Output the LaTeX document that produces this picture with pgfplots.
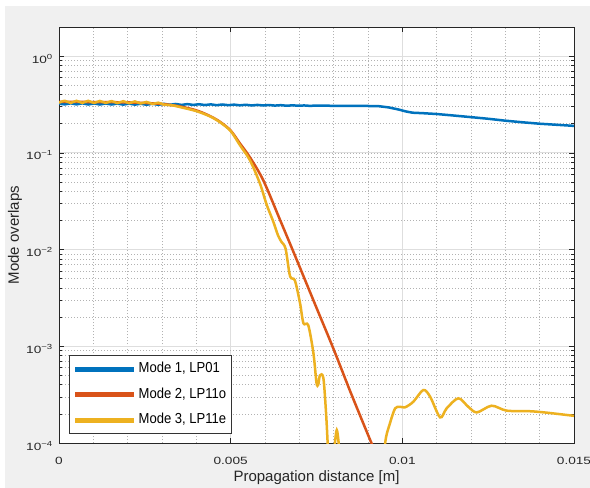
\documentclass[border=0pt]{standalone}
\usepackage{fontspec}
\setmainfont{Liberation Sans}
\newfontfamily\tickfont[FakeStretch=1.3]{Liberation Sans}
\newfontfamily\legfont[FakeStretch=0.9]{Liberation Sans}
\usepackage{pgfplots}
\pgfplotsset{compat=1.18}
\definecolor{mblue}{RGB}{0,114,189}
\definecolor{morange}{RGB}{217,83,25}
\definecolor{myellow}{RGB}{237,177,32}
\definecolor{figbg}{RGB}{240,240,240}
\begin{document}
\begin{tikzpicture}
\fill[white] (0,0) rectangle (590pt,488pt);
\clip (0,0) rectangle (590pt,488pt);
\fill[figbg] (5pt,0) rectangle (590pt,482pt);
\begin{axis}[
  at={(59pt,45pt)}, anchor=south west,
  scale only axis, width=515pt, height=416pt,
  ymode=log,
  xmin=0, xmax=0.015, ymin=1e-4, ymax=2,
  axis background/.style={fill=white},
  axis line style={draw=black!85, line width=0.7pt},
  every tick/.style={draw=black!85, line width=0.6pt},
  tick align=inside, tick pos=both,
  major tick length=5pt, minor tick length=3pt,
  xtick={0,0.005,0.01,0.015},
  xticklabels={0,0.005,0.01,0.015},
  scaled x ticks=false,
  minor x tick num=4,
  minor x tick style={draw=none},
  ytick={1e-4,1e-3,1e-2,1e-1,1},
  yticklabels={10\textsuperscript{−4},10\textsuperscript{−3},10\textsuperscript{−2},10\textsuperscript{−1},10\textsuperscript{0}},
  grid=both,
  major grid style={draw=black!13, line width=0.7pt},
  minor grid style={draw=black!30, line width=0.6pt, dash pattern=on 1pt off 2pt},
  xticklabel style={font=\tickfont\fontsize{10.5}{12}\selectfont, anchor=base, inner sep=0pt, yshift=-21pt, text=black!85},
  yticklabel style={font=\tickfont\fontsize{10.5}{12}\selectfont, anchor=base east, inner sep=0pt, xshift=-6pt, yshift=-7pt, text=black!85},
  xlabel={Propagation distance [m]},
  ylabel={Mode overlaps},
  every axis x label/.style={at={(rel axis cs:0.5,0)}, yshift=-35pt, anchor=center, font=\fontsize{15}{18}\selectfont, text=black!85},
  every axis y label/.style={at={(rel axis cs:0,0.5)}, xshift=-44pt, anchor=center, rotate=90, font=\fontsize{15}{18}\selectfont, text=black!85},
  legend style={at={(0.02,0.021)}, anchor=south west, draw=black!80, line width=0.8pt, fill=white,
    font=\legfont\fontsize{14.5}{16}\selectfont, row sep=8.5pt, inner xsep=3pt, inner ysep=5pt,
    nodes={inner sep=2pt, text height=10pt, text depth=3pt}},
  legend cell align=left,
  legend image code/.code={\draw[#1, line width=5pt] (0pt,0pt) -- (59pt,0pt);},
]
\addplot[mblue, line width=2.5pt] coordinates {
(0,0.322) (0.00017,0.317) (0.00034,0.325) (0.00051,0.317) (0.00068,0.325) (0.00085,0.316)
(0.00102,0.324) (0.00119,0.316) (0.00136,0.324) (0.00153,0.316) (0.0017,0.323) (0.00187,0.315)
(0.00204,0.323) (0.00221,0.315) (0.00238,0.322) (0.00255,0.314) (0.00272,0.322) (0.00289,0.314)
(0.00306,0.321) (0.00323,0.314) (0.0034,0.32) (0.00357,0.313) (0.00374,0.319) (0.00391,0.313)
(0.00408,0.318) (0.00425,0.312) (0.00442,0.317) (0.00459,0.311) (0.00476,0.316) (0.00493,0.311)
(0.0051,0.315) (0.00527,0.31) (0.00544,0.314) (0.00561,0.309) (0.00578,0.313) (0.00595,0.309)
(0.00612,0.312) (0.00629,0.308) (0.00646,0.311) (0.00663,0.307) (0.0068,0.31) (0.00697,0.307)
(0.00714,0.309) (0.00731,0.306) (0.00748,0.308) (0.0078,0.307) (0.0082,0.306) (0.0086,0.306)
(0.0090,0.305) (0.0093,0.304) (0.0096,0.295) (0.0099,0.28) (0.0101,0.268) (0.0103,0.26)
(0.0106,0.257) (0.0110,0.252) (0.0115,0.243) (0.0120,0.234) (0.0125,0.225) (0.0130,0.215)
(0.0135,0.207) (0.0140,0.200) (0.0145,0.195) (0.0150,0.19)
};
\addlegendentry{Mode 1, LP01}
\addplot[morange, line width=2.5pt, smooth] coordinates {
(0,0.336) (0.0005,0.336) (0.001,0.335) (0.0015,0.334) (0.002,0.332) (0.0025,0.328)
(0.003,0.32) (0.0035,0.303) (0.004,0.275) (0.0044,0.24) (0.0047,0.208) (0.005,0.17)
(0.00527,0.125) (0.00556,0.09) (0.00595,0.052) (0.00644,0.0202) (0.00692,0.0079)
(0.0075,0.0025) (0.00799,0.00095) (0.0085,0.00033) (0.0091,0.0001) (0.0093,0.00007)
};
\addlegendentry{Mode 2, LP11o}
\addplot[myellow, line width=2.5pt, smooth] coordinates {
(0,0.33) (0.00017,0.345) (0.00034,0.328) (0.00051,0.345) (0.00068,0.328) (0.00085,0.345)
(0.00102,0.328) (0.00119,0.344) (0.00136,0.328) (0.00153,0.343) (0.0017,0.327) (0.00187,0.342)
(0.00204,0.326) (0.00221,0.34) (0.00238,0.324) (0.00255,0.336) (0.00272,0.32) (0.00289,0.33)
(0.00306,0.315) (0.0033,0.31) (0.0036,0.293) (0.004,0.27) (0.0044,0.238) (0.0047,0.206)
(0.005,0.168) (0.00527,0.12) (0.00556,0.084) (0.00585,0.0485) (0.00605,0.029) (0.00624,0.0195)
(0.00638,0.014) (0.00648,0.012) (0.0066,0.0102) (0.00673,0.0053) (0.00687,0.0048) (0.00702,0.0028)
(0.00712,0.00173) (0.00726,0.00165) (0.00741,0.00085) (0.0075,0.00042) (0.00755,0.0004)
(0.0076,0.0005) (0.0077,0.00047) (0.00778,0.0002) (0.00784,0.00008) (0.0079,0.00004)
(0.00798,0.00006) (0.00809,0.000136) (0.0082,0.00006) (0.0083,0.00002) (0.0094,0.00003)
(0.0095,0.0001) (0.00964,0.00016) (0.00979,0.000228) (0.00993,0.000237) (0.01008,0.000234)
(0.01032,0.000267) (0.01061,0.000353) (0.01081,0.000301) (0.0111,0.000184) (0.01129,0.000228)
(0.01163,0.00029) (0.01192,0.000237) (0.01217,0.000207) (0.0126,0.000243) (0.01304,0.000216)
(0.01372,0.000213) (0.0142,0.000206) (0.015,0.000191)
};
\addlegendentry{Mode 3, LP11e}
\end{axis}
\end{tikzpicture}
\end{document}
